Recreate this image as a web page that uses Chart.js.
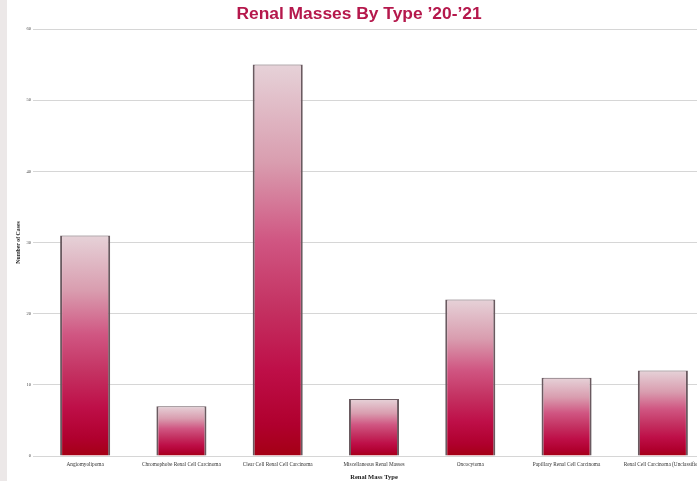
<!DOCTYPE html>
<html>
<head>
<meta charset="utf-8">
<script src="https://cdn.jsdelivr.net/npm/chart.js@4/dist/chart.umd.min.js"></script>
<style>
  html, body { margin: 0; padding: 0; background: #ffffff; overflow: hidden; }
  body { width: 697px; height: 481px; position: relative; }
  #strip { position: absolute; left: 0; top: 0; width: 7px; height: 481px; background: #ece8e8; }
  #wrap { position: absolute; left: 7px; top: 0; width: 720px; height: 481px; }
</style>
</head>
<body>
<div id="strip"></div>
<div id="wrap"><canvas id="c" width="720" height="481"></canvas></div>
<script>
// Renal mass types and number of cases, 2020-2021
const massTypes = [
  'Angiomyolipoma',
  'Chromophobe Renal Cell Carcinoma',
  'Clear Cell Renal Cell Carcinoma',
  'Miscellaneous Renal Masses',
  'Oncocytoma',
  'Papillary Renal Cell Carcinoma',
  'Renal Cell Carcinoma (Unclassified)'
];
const caseCounts = [31, 7, 55, 8, 22, 11, 12];
const yTicks = [0, 10, 20, 30, 40, 50, 60];

const chartTitle = 'Renal Masses By Type \u201920-\u201921';

// Each bar gets its own vertical gradient, pale at the top and deep red at the base
function barGradient(ctx) {
  const chart = ctx.chart;
  const area = chart.chartArea;
  if (!area || ctx.type !== 'data') return '#c0104a';
  const y = chart.scales.y;
  const top = y.getPixelForValue(ctx.raw);
  const bottom = y.getPixelForValue(0);
  const g = chart.ctx.createLinearGradient(0, top, 0, bottom);
  g.addColorStop(0.00, '#e6d2d8');
  g.addColorStop(0.25, '#d99daf');
  g.addColorStop(0.45, '#d05682');
  g.addColorStop(0.62, '#c43262');
  g.addColorStop(0.78, '#be0f48');
  g.addColorStop(0.92, '#b0002e');
  g.addColorStop(1.00, '#a40014');
  return g;
}

// Title drawn at a fixed horizontal centre above the plot
const titlePlugin = {
  id: 'pageTitle',
  afterDraw(chart) {
    const c = chart.ctx;
    c.save();
    c.font = 'bold 17.4px "Liberation Sans", Arial, sans-serif';
    c.fillStyle = '#b5184c';
    c.textAlign = 'center';
    c.textBaseline = 'middle';
    c.fillText(chartTitle, 352, 14);
    c.restore();
  }
};

const serif = '"Liberation Serif", "Times New Roman", serif';

new Chart(document.getElementById('c'), {
  type: 'bar',
  data: {
    labels: massTypes,
    datasets: [{
      data: caseCounts,
      backgroundColor: barGradient,
      borderColor: '#6a5a60',
      borderWidth: { left: 2, right: 2, top: 1, bottom: 0 },
      borderSkipped: 'bottom',
      categoryPercentage: 1,
      barPercentage: 0.52
    }]
  },
  options: {
    responsive: false,
    animation: false,
    devicePixelRatio: 1,
    layout: { padding: { top: 29, right: 16, left: 0, bottom: 0 } },
    plugins: {
      legend: { display: false },
      title: { display: false },
      tooltip: { enabled: false }
    },
    scales: {
      x: {
        afterFit(scale) { scale.height = 25; },
        grid: { display: false, drawTicks: false },
        border: { display: false },
        ticks: {
          color: '#333',
          font: { family: serif, size: 5.3 },
          maxRotation: 0,
          autoSkip: false,
          padding: 5
        },
        title: {
          display: true,
          text: 'Renal Mass Type',
          color: '#222',
          font: { family: serif, size: 6.5, weight: 'bold' },
          padding: { top: 0, bottom: 0 }
        }
      },
      y: {
        min: 0,
        max: 60,
        afterFit(scale) { scale.width = 30; },
        afterBuildTicks(axis) { axis.ticks = yTicks.map(v => ({ value: v })); },
        grid: { color: '#d6d6d6', lineWidth: 1, tickLength: 4, tickColor: '#d6d6d6' },
        border: { display: false },
        ticks: {
          color: '#444',
          font: { family: serif, size: 4.5 },
          padding: 2
        },
        title: {
          display: true,
          text: 'Number of Cases',
          color: '#222',
          font: { family: serif, size: 5.8, weight: 'bold' },
          padding: { top: 8, bottom: 4 }
        }
      }
    }
  },
  plugins: [titlePlugin]
});
</script>
</body>
</html>
